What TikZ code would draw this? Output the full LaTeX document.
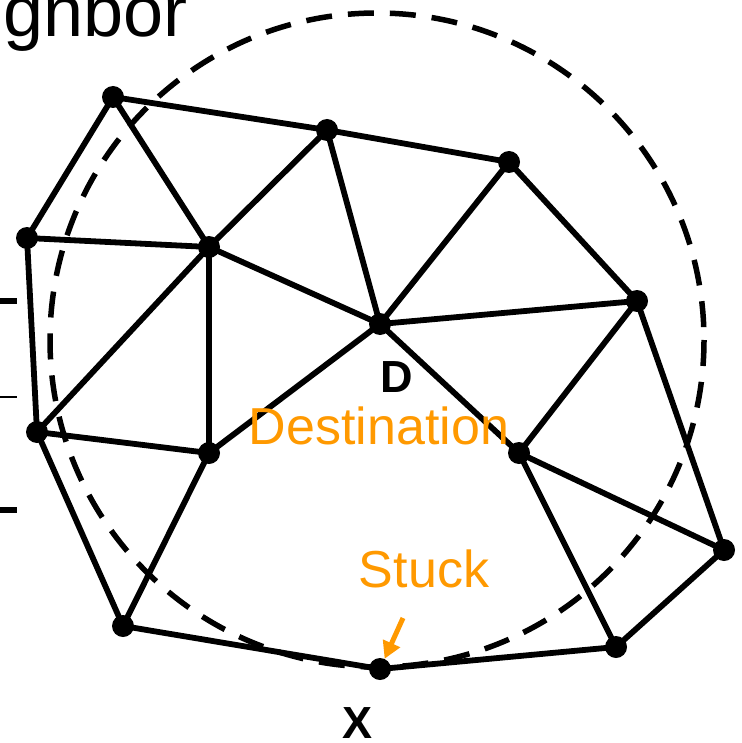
\documentclass[tikz,border=0pt]{standalone}
\usepackage{fontspec}
\setmainfont{Liberation Sans}
\usetikzlibrary{arrows.meta}
\definecolor{orng}{HTML}{FF9900}
\begin{document}
\begin{tikzpicture}[x=1pt,y=-1pt,
  dot/.style={circle,fill=black,inner sep=0pt,minimum size=22pt},
  edge/.style={line width=5.8pt,line cap=round},
  ring/.style={line width=5.5pt,dash pattern=on 26pt off 16pt},
  lbl/.style={font=\fontsize{45}{45}\selectfont\bfseries,inner sep=0pt},
  olbl/.style={font=\fontsize{52}{52}\selectfont,text=orng,inner sep=0pt},
  tick/.style={line width=6pt}]
\useasboundingbox (0,0) rectangle (741,743);
\draw[ring] (377,340) circle[radius=327];
% nodes
\node[dot] (a1) at (113,97) {};
\node[dot] (a2) at (327,130) {};
\node[dot] (a3) at (509,162) {};
\node[dot] (b1) at (27,238) {};
\node[dot] (b2) at (209,247) {};
\node[dot] (d) at (380,324) {};
\node[dot] (c1) at (637,301) {};
\node[dot] (l1) at (37,432) {};
\node[dot] (l2) at (209,453) {};
\node[dot] (r1) at (519,453) {};
\node[dot] (r2) at (724,550) {};
\node[dot] (m1) at (123,626) {};
\node[dot] (x) at (380,669) {};
\node[dot] (m2) at (616,647) {};
% edges
\foreach \u/\v in {a1/a2,a2/a3,a1/b1,a1/b2,a2/b2,a2/d,a3/d,a3/c1,b1/b2,b1/l1,
  b2/d,b2/l1,b2/l2,d/l2,d/c1,d/r1,c1/r1,c1/r2,l1/l2,l1/m1,l2/m1,r1/r2,r1/m2,
  r2/m2,m1/x,x/m2}
  \draw[edge] (\u.center) -- (\v.center);
% labels
\node[lbl,anchor=base] (dl) at (397,392) {D};
\node[lbl,anchor=base] (xl) at (358,738) {X};
\node[olbl,anchor=base] (dest) at (379,444) {Destination};
\node[olbl,anchor=base] (stuck) at (424,587) {Stuck};
\coordinate (st) at (403,618);
\draw[orng,line width=5pt,-{Triangle[length=17pt,width=18pt]}] (st) -- (x);
% top-left text
\node[font=\fontsize{72}{72}\selectfont,anchor=base east,inner sep=0pt] (nb) at (188,37) {gnbor};
% ticks
\coordinate (t1a) at (0,301); \coordinate (t1b) at (17,301);
\coordinate (t2a) at (0,397); \coordinate (t2b) at (17,397);
\coordinate (t3a) at (0,510); \coordinate (t3b) at (17,510);
\draw[tick] (t1a) -- (t1b);
\draw[line width=1.5pt] (t2a) -- (t2b);
\draw[tick] (t3a) -- (t3b);
\end{tikzpicture}
\end{document}
